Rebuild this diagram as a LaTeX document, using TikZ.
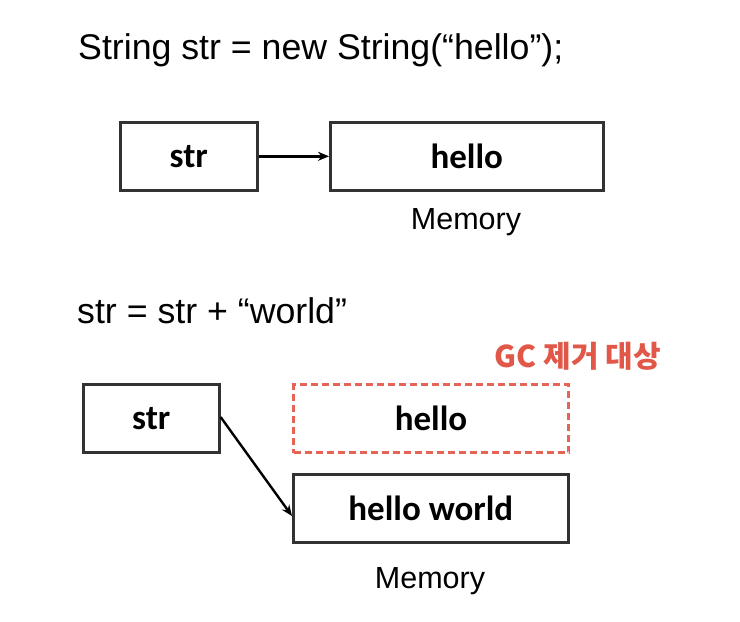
\documentclass[tikz,border=0pt]{standalone}
\usepackage{fontspec}
\setmainfont{Liberation Sans}
\newfontfamily\boxfont{Carlito}[BoldFont={* Bold}]
\newfontfamily\krfont{Noto Sans CJK KR}
\usetikzlibrary{arrows.meta}
\definecolor{gcred}{RGB}{226,88,72}
\definecolor{dashred}{RGB}{230,100,85}
\definecolor{boxline}{RGB}{50,50,50}
\tikzset{
  membox/.style={draw=boxline, line width=2.6pt, inner sep=0pt, anchor=north west},
  boxlabel/.style={font=\boxfont\bfseries\fontsize{35}{38}\selectfont},
  codetext/.style={font=\fontsize{35.7}{40}\selectfont, anchor=base west, inner sep=0pt},
  memtext/.style={font=\fontsize{30.5}{34}\selectfont, anchor=base, inner sep=0pt},
  ptr/.style={draw=black, line width=2.4pt, -{Stealth[length=11pt,width=9pt]}},
}
\begin{document}
\begin{tikzpicture}[x=1pt,y=-1pt]
\useasboundingbox (0,0) rectangle (740,622);
\node[codetext] (code1) at (78,59) {String str = new String(“hello”);};
\node[membox, minimum width=137pt, minimum height=68pt, boxlabel] (str1) at (119,121) {str};
\node[membox, minimum width=273pt, minimum height=68pt, boxlabel] (hello1) at (329,121) {hello};
\node[memtext] (mem1) at (466,229) {Memory};
\draw[ptr] (str1.east) -- (hello1.west);

\node[codetext] (code2) at (77,323) {str = str + “world”};
\node[font=\krfont\bfseries\fontsize{30}{34}\selectfont, text=gcred, anchor=base east, inner sep=0pt] (gc) at (661,367) {GC 제거 대상};
\node[membox, minimum width=136pt, minimum height=68pt, boxlabel] (str2) at (82,383) {str};
\node[membox, draw=dashred, line width=3pt, dash pattern=on 7pt off 4pt, minimum width=275pt, minimum height=68pt, boxlabel] (hello2) at (292,383) {hello};
\node[membox, minimum width=275pt, minimum height=68pt, boxlabel] (hw) at (292,473) {hello world};
\node[memtext] (mem2) at (430,588) {Memory};
\draw[ptr] (str2.north east) ++(0,34) coordinate (s2) -- (hw.west |- 0,516) coordinate (hwin);
\end{tikzpicture}
\end{document}
